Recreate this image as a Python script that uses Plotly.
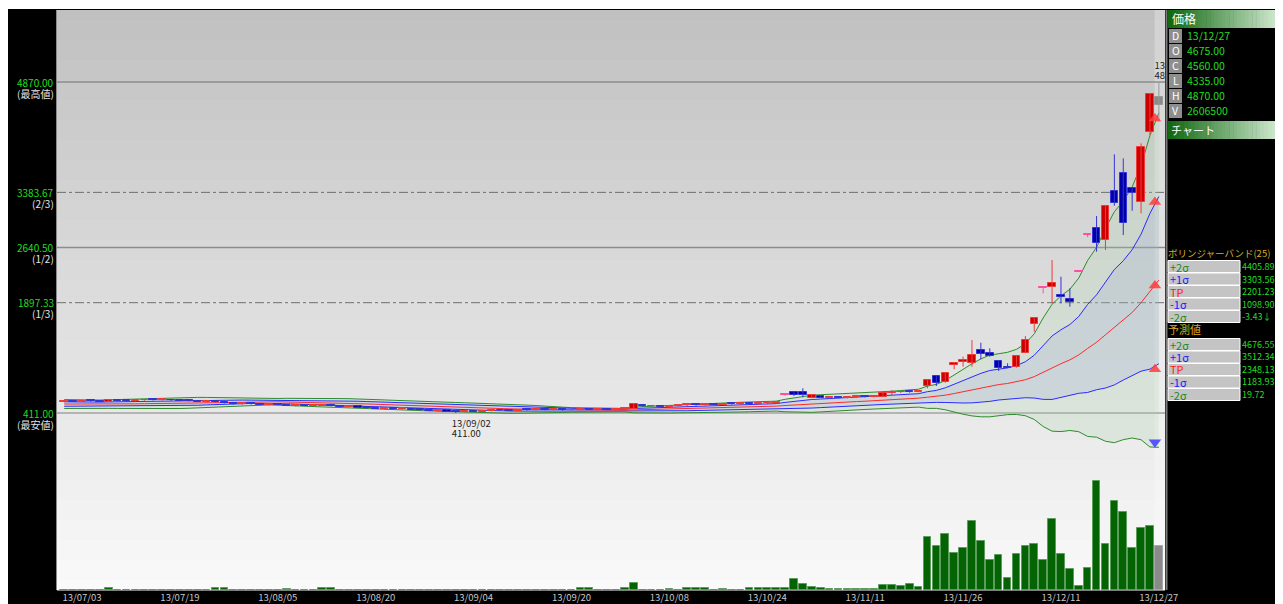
import plotly.graph_objects as go
import pandas as pd
import numpy as np

# ---------------- data ----------------
holidays = ["2013-07-15", "2013-09-16", "2013-09-23", "2013-10-14", "2013-11-04", "2013-12-23"]
trade_days = [d for d in pd.bdate_range("2013-07-01", "2013-12-27")
              if d.strftime("%Y-%m-%d") not in holidays]
dates = [d.strftime("%y/%m/%d") for d in trade_days]

tick_labels = ["13/07/03", "13/07/19", "13/08/05", "13/08/20", "13/09/04", "13/09/20",
               "13/10/08", "13/10/24", "13/11/11", "13/11/26", "13/12/11", "13/12/27"]

# closes of the 24 sessions before the first shown day (warm-up of the 25-day band)
june_close = [590, 580, 570, 575, 560, 555, 545, 550, 540, 535, 525, 530,
              515, 505, 500, 495, 490, 500, 495, 505, 500, 510, 520, 540]

open_ = [560, 570, 565, 577, 570, 565, 585, 575, 572, 580, 590, 585, 592, 590, 578, 570, 565, 572, 560, 545,
         530, 535, 528, 520, 525, 518, 510, 515, 508, 512, 525, 505, 495, 500, 485, 478, 470, 475, 465, 470,
         455, 448, 440, 445, 430, 425, 435, 430, 440, 450, 445, 440, 455, 450, 465, 452, 460, 445, 455, 470,
         455, 460, 452, 465, 470, 520, 500, 505, 498, 508, 515, 525, 515, 535, 525, 535, 530, 538, 532, 540,
         545, 649, 690, 700, 617, 640, 620, 628, 615, 625, 630, 628, 631, 680, 688, 700, 698, 775, 909, 833,
         1058, 1102, 1081, 1260, 1215, 1115, 1030, 1035, 1223, 1610, 2094, 2113, 1998, 1943, 2310, 2810, 2899, 2742, 3402, 3648,
         3440, 3258, 4201, 4675]
high = [575, 580, 580, 585, 575, 590, 590, 580, 585, 595, 600, 598, 600, 598, 585, 578, 575, 580, 565, 555,
        540, 545, 535, 530, 535, 528, 520, 525, 520, 530, 535, 512, 505, 505, 495, 488, 480, 482, 475, 478,
        465, 458, 450, 452, 440, 440, 445, 445, 455, 460, 455, 460, 465, 470, 472, 465, 470, 460, 475, 478,
        465, 470, 468, 480, 535, 525, 510, 515, 512, 520, 530, 532, 540, 542, 540, 545, 540, 548, 545, 555,
        552, 649, 700, 744, 660, 648, 635, 640, 632, 640, 645, 650, 685, 720, 700, 712, 712, 865, 923, 954,
        1080, 1170, 1394, 1358, 1283, 1115, 1080, 1190, 1448, 1695, 2094, 2472, 2247, 2091, 2310, 2810, 3065, 3200, 3896, 3842,
        3440, 4044, 4709, 4870]
low = [555, 560, 560, 565, 560, 560, 570, 565, 568, 575, 580, 578, 575, 570, 565, 560, 555, 555, 540, 525,
       520, 525, 515, 510, 515, 505, 500, 505, 498, 505, 500, 490, 485, 480, 470, 465, 460, 462, 455, 450,
       440, 435, 428, 425, 411, 420, 425, 428, 432, 440, 435, 438, 445, 445, 448, 445, 442, 440, 450, 450,
       445, 450, 448, 458, 465, 495, 490, 495, 490, 500, 505, 510, 512, 520, 520, 525, 522, 528, 525, 530,
       535, 640, 640, 622, 610, 615, 605, 610, 608, 612, 620, 622, 625, 653, 680, 685, 690, 745, 775, 819,
       1000, 1035, 1035, 1134, 1169, 977, 1015, 1021, 1223, 1506, 2024, 1889, 1889, 1843, 2310, 2780, 2584, 2607, 3204, 2809,
       3136, 3101, 4156, 4335]
close = [570, 565, 577, 570, 565, 585, 575, 572, 580, 590, 585, 592, 580, 575, 570, 565, 570, 560, 545, 530,
         535, 528, 520, 525, 518, 510, 515, 508, 512, 525, 505, 495, 500, 485, 478, 470, 475, 465, 470, 455,
         448, 440, 445, 430, 425, 435, 430, 440, 450, 445, 440, 455, 450, 465, 452, 460, 445, 455, 470, 455,
         460, 452, 465, 470, 528, 500, 505, 498, 508, 515, 525, 515, 535, 525, 535, 530, 538, 532, 540, 545,
         549, 649, 650, 660, 653, 620, 628, 615, 625, 630, 628, 635, 676, 682, 692, 695, 705, 855, 811, 946,
         1080, 1125, 1192, 1206, 1183, 1013, 1020, 1179, 1394, 1694, 2094, 2158, 1970, 1910, 2310, 2810, 2697, 3200, 3236, 2975,
         3380, 3999, 4709, 4560]
volume = [20000, 20000, 20000, 20000, 20000, 90000, 20000, 20000, 20000, 20000,
          20000, 20000, 20000, 20000, 20000, 20000, 20000, 90000, 90000, 20000,
          20000, 20000, 20000, 20000, 20000, 60000, 20000, 20000, 20000, 120000,
          90000, 20000, 20000, 20000, 20000, 20000, 20000, 20000, 20000, 20000,
          20000, 20000, 20000, 20000, 20000, 20000, 20000, 20000, 20000, 20000,
          20000, 20000, 20000, 20000, 20000, 20000, 20000, 20000, 90000, 90000,
          20000, 20000, 20000, 90000, 420000, 20000, 20000, 20000, 60000, 20000,
          120000, 90000, 90000, 20000, 60000, 20000, 20000, 120000, 120000, 90000,
          120000, 140000, 650000, 380000, 150000, 90000, 80000, 40000, 60000, 80000,
          60000, 80000, 300000, 300000, 220000, 360000, 180000, 3160000, 2640000, 3340000,
          2210000, 2500000, 4130000, 2940000, 1790000, 2070000, 700000, 2130000, 2640000, 2760000,
          1790000, 4240000, 2130000, 1270000, 240000, 1330000, 6480000, 2760000, 5290000, 4630000,
          2490000, 3680000, 3800000, 2606500]
stop_high_days = [81, 110, 114, 115]   # limit-up sessions (pink)

info_labels = ["D", "O", "C", "L", "H", "V"]
info_values = ["13/12/27", "4675.00", "4560.00", "4335.00", "4870.00", "2606500"]
band_names = ["+2σ", "+1σ", "TP", "-1σ", "-2σ"]
band_values = ["4405.89↑", "3303.56↑", "2201.23↑", "1098.90↑", "-3.43↓"]
forecast_values = ["4676.55", "3512.34", "2348.13", "1183.93", "19.72"]
level_names = ["(最高値)", "(2/3)", "(1/2)", "(1/3)", "(最安値)"]

# ---------------- derived ----------------
n = len(close)
xi = list(range(n))
cl_all = pd.Series(june_close + close, dtype=float)
tp = cl_all.rolling(25).mean().iloc[24:].to_numpy()
sd = cl_all.rolling(25).std(ddof=0).iloc[24:].to_numpy()
bands = {"+2": tp + 2 * sd, "+1": tp + sd, "TP": tp, "-1": tp - sd, "-2": tp - 2 * sd}

hi = max(high)
lo = min(low)
levels = [hi, lo + (hi - lo) * 2 / 3, lo + (hi - lo) / 2, lo + (hi - lo) / 3, lo]
i_hi = int(np.argmax(high))
i_lo = int(np.argmin(low))

# ---------------- geometry (screen pixels; page body keeps its 8px margin) ----------------
OFF = 8
SW, SH = 1283, 604
FW, FH = SW - OFF, SH - OFF
L, R, T, B = 57, 1165, 10, 590
XR = [-0.81, 123.69]
YR = [-1973.5, 5840.6]
VR = [0, 34.6e6]
ppp = (YR[1] - YR[0]) / (B - T)  # price per pixel


def px(x):
    return (x - L) / (R - L)


def py(y):
    return (B - y) / (B - T)


FONT = "Noto Sans CJK JP"

fig = go.Figure()

# Bollinger fills + lines (bottom layer, y)
fig.add_trace(go.Scatter(x=xi, y=bands["-2"], mode="lines", line=dict(color="#2e8b2e", width=1), yaxis="y"))
fig.add_trace(go.Scatter(x=xi, y=bands["+2"], mode="lines", line=dict(color="#2e8b2e", width=1),
                         fill="tonexty", fillcolor="rgba(170,215,170,0.22)", yaxis="y"))
fig.add_trace(go.Scatter(x=xi, y=bands["-1"], mode="lines", line=dict(color="#2b2bff", width=1), yaxis="y"))
fig.add_trace(go.Scatter(x=xi, y=bands["+1"], mode="lines", line=dict(color="#2b2bff", width=1),
                         fill="tonexty", fillcolor="rgba(140,150,225,0.16)", yaxis="y"))
fig.add_trace(go.Scatter(x=xi, y=bands["TP"], mode="lines", line=dict(color="#ff2a2a", width=1), yaxis="y"))

# Volume (y2)
vcol = ["#8a8a8a" if i == n - 1 else "#046404" for i in xi]
vline = ["#a8a8a8" if i == n - 1 else "#5c9c5c" for i in xi]
fig.add_trace(go.Bar(x=xi, y=volume, width=0.86, marker=dict(color=vcol, line=dict(color=vline, width=1)),
                     yaxis="y2"))

# Candles (y3, top)
groups = {"up": [], "down": [], "stop": [], "last": []}
for i in xi:
    if i == n - 1:
        groups["last"].append(i)
    elif i in stop_high_days:
        groups["stop"].append(i)
    elif close[i] >= open_[i]:
        groups["up"].append(i)
    else:
        groups["down"].append(i)
styles = {"up": ("#cc0000", "#f03a3a"), "down": ("#0000a8", "#3434d4"),
          "stop": ("#ff4fa0", "#ff4fa0"), "last": ("#8a8a8a", "#9a9a9a")}
min_body = 0.9 * ppp
for g, idx in groups.items():
    fill, edge = styles[g]
    wx, wy = [], []
    for i in idx:
        wx += [i, i, None]
        wy += [low[i], high[i], None]
    fig.add_trace(go.Scatter(x=wx, y=wy, mode="lines", line=dict(color=edge, width=1), yaxis="y3"))
    base = [min(open_[i], close[i]) for i in idx]
    hgt = [max(abs(close[i] - open_[i]), min_body) for i in idx]
    fig.add_trace(go.Bar(x=idx, y=hgt, base=base, width=0.84,
                         marker=dict(color=fill, line=dict(color=edge, width=1)), yaxis="y3"))

# band direction triangles at the right end
tri_x, tri_y, tri_s, tri_c = [], [], [], []
for k in ["+2", "+1", "TP", "-1", "-2"]:
    b = bands[k]
    up = b[-1] >= b[-2]
    tri_x.append(n - 1 - 0.44)
    tri_y.append(b[-1] - 5.5 * ppp if up else b[-1] + 5 * ppp)
    tri_s.append("triangle-up" if up else "triangle-down")
    tri_c.append("rgba(255,60,60,0.85)" if up else "rgba(60,60,255,0.85)")
fig.add_trace(go.Scatter(x=tri_x, y=tri_y, mode="markers",
                         marker=dict(symbol=tri_s, color=tri_c, size=11, line=dict(width=0)), yaxis="y3"))

# max / min labels (clipped by the plot area), one text per line
lab_x = [i_lo - 0.45, i_lo - 0.45, i_hi - 0.5, i_hi - 0.5]
lab_y = [lo - 11.5 * ppp, lo - 21.5 * ppp, hi + 15 * ppp, hi + 5 * ppp]
lab_t = [dates[i_lo], f"{lo:.2f}", dates[i_hi], f"{hi:.2f}"]
fig.add_trace(go.Scatter(x=lab_x, y=lab_y, mode="text", text=lab_t, textposition="middle right",
                         textfont=dict(color="#222222", size=9.5, family=FONT), yaxis="y3", cliponaxis=True))

# ---------------- shapes ----------------
shapes = []


def rect(x0, y0, x1, y1, fill, layer="above", line_color=None, lw=0):
    shapes.append(dict(type="rect", xref="paper", yref="paper", x0=px(x0), x1=px(x1), y0=py(y1), y1=py(y0),
                       fillcolor=fill, line=dict(width=lw, color=line_color or fill), layer=layer))


# gradient background of the plot area
NB = 58
for k in range(NB):
    y0 = T + (B - T) * k / NB
    y1 = T + (B - T) * (k + 1) / NB
    v = int(round(192 + (250 - 192) * (k + 0.5) / NB))
    rect(L, y0, R, y1 + 0.5, f"rgb({v},{v},{v})", layer="below")

# highlighted last column
shapes.append(dict(type="rect", xref="x", yref="paper", x0=n - 1 - 0.48, x1=XR[1], y0=0, y1=1,
                   fillcolor="rgba(255,255,255,0.28)", line=dict(width=0), layer="below"))

# level lines
lvl_style = [("#8c8c8c", 1.5, "solid"), ("#6e6e6e", 1, "dashdot"), ("#8c8c8c", 1.5, "solid"),
             ("#6e6e6e", 1, "dashdot"), ("#b4b4b4", 2, "solid")]
for v, (c, w, d) in zip(levels, lvl_style):
    shapes.append(dict(type="line", xref="paper", yref="y", x0=0, x1=1, y0=v, y1=v,
                       line=dict(color=c, width=w, dash=d), layer="below"))

# thin white line on top of the figure
rect(OFF, OFF, SW, 9, "#ffffff")
# panel borders
shapes.append(dict(type="line", xref="paper", yref="paper", x0=px(56.5), x1=px(56.5), y0=py(B), y1=py(T),
                   line=dict(color="#8a8a8a", width=1)))
shapes.append(dict(type="line", xref="paper", yref="paper", x0=px(1166.5), x1=px(1166.5), y0=py(B), y1=py(T),
                   line=dict(color="#7a7a7a", width=2)))


# green gradient header bars
def header(y0, y1):
    NS = 30
    x0, x1 = 1168, SW
    for k in range(NS):
        t = k / (NS - 1)
        r = int(18 + (215 - 18) * t)
        g = int(105 + (238 - 105) * t)
        b = int(18 + (215 - 18) * t)
        xa = x0 + (x1 - x0) * k / NS
        xb = x0 + (x1 - x0) * (k + 1) / NS + 0.5
        rect(xa, y0, xb, y1, f"rgb({r},{g},{b})")


header(10, 28)
header(121, 139)

ann = []


def text(s, x, y, color, size, xanchor="left", family=FONT):
    ann.append(dict(text=s, x=px(x), y=py(y), xref="paper", yref="paper", xanchor=xanchor, yanchor="middle",
                    showarrow=False, borderpad=0, font=dict(color=color, size=size, family=family)))


text("価格", 1171, 19, "#ffffff", 12)
text("チャート", 1170, 130, "#ffffff", 11)

info_y = [36, 51, 66, 81, 96, 111]
for lab, val, yc in zip(info_labels, info_values, info_y):
    rect(1169, yc - 7, 1182, yc + 7, "#8e8e8e")
    text(lab, 1175.5, yc, "#ffffff", 10.5, xanchor="center")
    text(val, 1186, yc, "#22dd22", 10.5)

# Bollinger section
text("ボリンジャーバンド(25)", 1167, 253, "#d8aa22", 9.5)
name_col = ["#1a8a1a", "#2020ff", "#ff1a1a", "#2020ff", "#1a8a1a"]
bb_y = [266.5, 279, 291.5, 304, 316.5]
for nm, val, c, yc in zip(band_names, band_values, name_col, bb_y):
    rect(1168, yc - 6, 1240, yc + 6, "#c4c4c4", line_color="#ffffff", lw=1)
    text(nm, 1169, yc, c, 11)
    text(val, 1241, yc, "#22dd22", 9)

text("予測値", 1167, 329, "#d8aa22", 11)
fc_y = [344.5, 357, 369.5, 382, 394.5]
for nm, val, c, yc in zip(band_names, forecast_values, name_col, fc_y):
    rect(1168, yc - 6, 1240, yc + 6, "#c4c4c4", line_color="#ffffff", lw=1)
    text(nm, 1169, yc, c, 11)
    text(val, 1241, yc, "#22dd22", 9)

# left price-level labels
for v, nm in zip(levels, level_names):
    ypix = B - (v - YR[0]) / ppp
    text(f"{v:.2f}", 55, ypix, "#22dd22", 10, xanchor="right")
    text(nm, 55, ypix + 11, "#e6e6e6", 10, xanchor="right")

tick_idx = [dates.index(t) for t in tick_labels]

fig.update_layout(
    width=FW, height=FH,
    margin=dict(l=L - OFF, r=(OFF + FW) - R, t=T - OFF, b=(OFF + FH) - B, pad=0, autoexpand=False),
    paper_bgcolor="#000000", plot_bgcolor="#e0e0e0",
    showlegend=False, barmode="overlay", bargap=0,
    shapes=shapes, annotations=ann,
    xaxis=dict(range=XR, tickvals=tick_idx, ticktext=tick_labels, showgrid=False, zeroline=False,
               showline=False, ticks="", ticklabelstandoff=0, automargin=False,
               tickfont=dict(color="#c8c8c8", size=9.5, family=FONT)),
    yaxis=dict(range=YR, visible=False, fixedrange=True, automargin=False),
    yaxis2=dict(range=VR, overlaying="y", visible=False),
    yaxis3=dict(range=YR, overlaying="y", visible=False),
    hovermode=False,
)

fig.write_html("out.html", config={"displayModeBar": False})
